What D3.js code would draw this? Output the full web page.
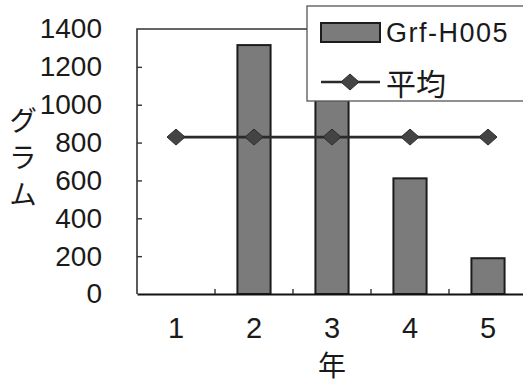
<!DOCTYPE html>
<html>
<head>
<meta charset="utf-8">
<script src="https://cdn.jsdelivr.net/npm/d3@7"></script>
<style>
  html, body { margin: 0; padding: 0; background: #fff; }
  svg { display: block; }
  text { fill: #1a1a1a; }
</style>
</head>
<body>
<svg id="chart" width="523" height="383"></svg>
<script>
// Yearly weights (grams) for Grf-H005; year 1 has no measurement
const years = [1, 2, 3, 4, 5];
const grams = [null, 1315, 1200, 611, 189];
// Average series drawn as a flat line across all years
const average = [829, 829, 829, 829, 829];
const yTicks = [0, 200, 400, 600, 800, 1000, 1200, 1400];
const seriesNames = ["Grf-H005", "平均"];
const yTitle = "グラム";
const xTitle = "年";

const svg = d3.select("#chart");
const plot = { left: 137, top: 29, right: 527, bottom: 294 };

const x = d3.scaleBand().domain(years).range([plot.left, plot.right]).paddingInner(0).paddingOuter(0);
const y = d3.scaleLinear().domain([0, 1400]).range([plot.bottom, plot.top]);
const barW = x.bandwidth() * 0.425;

const latin = "'Liberation Sans', Arial, sans-serif";
const cjk = "'Noto Sans CJK JP', sans-serif";

// Plot frame (top and left edges)
svg.append("path")
  .attr("d", `M${plot.left},${plot.bottom} V${plot.top} H${plot.right}`)
  .attr("fill", "none").attr("stroke", "#333").attr("stroke-width", 1.6);

// Bars
svg.append("g").selectAll("rect")
  .data(years.map((yr, i) => ({ yr, v: grams[i] })).filter(d => d.v != null))
  .join("rect")
  .attr("x", d => x(d.yr) + (x.bandwidth() - barW) / 2)
  .attr("y", d => y(d.v))
  .attr("width", barW)
  .attr("height", d => y(0) - y(d.v))
  .attr("fill", "#7b7b7b")
  .attr("stroke", "#1c1c1c")
  .attr("stroke-width", 2);

// Y axis: inward ticks, labels on the left
const yAxis = svg.append("g")
  .attr("transform", `translate(${plot.left},0)`)
  .call(d3.axisLeft(y).tickValues(yTicks).tickFormat(d3.format("d")).tickSize(-5).tickPadding(35));
yAxis.select(".domain").remove();
yAxis.selectAll(".tick line").attr("stroke", "#333").attr("stroke-width", 1.4)
  .filter(d => d === 0 || d === 1400).remove();
yAxis.selectAll("text").attr("font-family", latin).attr("font-size", 28).attr("fill", "#1a1a1a");

// X axis: baseline, category labels, inward ticks on category boundaries
const xAxis = svg.append("g")
  .attr("transform", `translate(0,${plot.bottom})`)
  .call(d3.axisBottom(x).tickSize(0).tickPadding(23));
xAxis.select(".domain").attr("stroke", "#111").attr("stroke-width", 2.2);
xAxis.selectAll("text").attr("font-family", latin).attr("font-size", 29).attr("fill", "#1a1a1a");
xAxis.selectAll(".boundary")
  .data(years.slice(1))
  .join("line")
  .attr("class", "boundary")
  .attr("x1", d => x(d)).attr("x2", d => x(d))
  .attr("y1", 0).attr("y2", -5)
  .attr("stroke", "#333").attr("stroke-width", 1.4);

// Average line with diamond markers
const cx = d => x(d) + x.bandwidth() / 2;
svg.append("path")
  .datum(years.map((yr, i) => [cx(yr), y(average[i])]))
  .attr("d", d3.line())
  .attr("fill", "none").attr("stroke", "#2a2a2a").attr("stroke-width", 2.6);

const diamond = (px, py) => `M${px},${py - 8} L${px + 9},${py} L${px},${py + 8} L${px - 9},${py} Z`;
svg.append("g").selectAll("path")
  .data(years.map((yr, i) => [cx(yr), y(average[i])]))
  .join("path")
  .attr("d", d => diamond(d[0], d[1]))
  .attr("fill", "#444").attr("stroke", "#2a2a2a").attr("stroke-width", 1);

// Axis titles: vertical Japanese title on the left, year title below
svg.append("text")
  .attr("x", 23).attr("y", 106)
  .style("writing-mode", "vertical-rl")
  .attr("letter-spacing", 9)
  .attr("font-family", cjk).attr("font-size", 28)
  .text(yTitle);

svg.append("text")
  .attr("x", x(3) + x.bandwidth() / 2).attr("y", 376)
  .attr("text-anchor", "middle")
  .attr("font-family", cjk).attr("font-size", 28)
  .text(xTitle);

// Legend
const lg = svg.append("g");
lg.append("rect")
  .attr("x", 307).attr("y", 6).attr("width", 222).attr("height", 95)
  .attr("fill", "#fff").attr("stroke", "#555").attr("stroke-width", 1.3);
lg.append("rect")
  .attr("x", 321).attr("y", 23).attr("width", 59).attr("height", 19)
  .attr("fill", "#7b7b7b").attr("stroke", "#1c1c1c").attr("stroke-width", 2);
lg.append("text")
  .attr("x", 386).attr("y", 42)
  .attr("font-family", latin).attr("font-size", 27).attr("letter-spacing", 1.5)
  .text(seriesNames[0]);
lg.append("line")
  .attr("x1", 321).attr("x2", 380).attr("y1", 82).attr("y2", 82)
  .attr("stroke", "#2a2a2a").attr("stroke-width", 2.6);
lg.append("path").attr("d", diamond(350, 82))
  .attr("fill", "#444").attr("stroke", "#2a2a2a").attr("stroke-width", 1);
lg.append("text")
  .attr("x", 386).attr("y", 82).attr("dominant-baseline", "central")
  .attr("font-family", cjk).attr("font-size", 30)
  .text(seriesNames[1]);
</script>
</body>
</html>
